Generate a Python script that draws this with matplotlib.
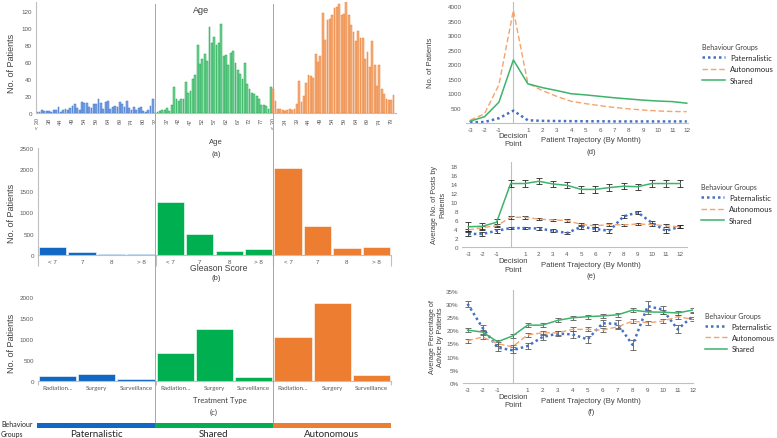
"""
Behaviour groups overview: age / gleason / treatment bars (left) and
monthly trajectories (right).
"""

import matplotlib
matplotlib.use('Agg')
import matplotlib.pyplot as plt
from matplotlib.lines import Line2D
from matplotlib.patches import Rectangle
import numpy as np

W, H = 777, 439

# ---- data ----
groups = ['Paternalistic', 'Shared', 'Autonomous']

age_pat = [1, 1, 3, 2, 2, 2, 1, 3, 4, 7, 1, 3, 5, 4, 6, 8, 10, 6, 3, 13,
           12, 12, 7, 6, 10, 10, 16, 12, 5, 13, 14, 5, 7, 8, 7, 13, 10, 7, 14, 6,
           3, 7, 4, 6, 7, 2, 1, 3, 8, 16]
age_shared = [0, 1, 2, 3, 4, 6, 2, 9, 30, 17, 14, 16, 17, 37, 24, 26, 40, 45, 80, 58,
              63, 69, 61, 101, 82, 89, 80, 82, 105, 67, 68, 57, 71, 73, 59, 51, 46, 40, 59, 34,
              28, 24, 22, 20, 16, 9, 9, 8, 5, 31]
age_auto = [28, 14, 5, 5, 3, 2, 3, 5, 4, 5, 11, 38, 13, 20, 35, 45, 44, 41, 69, 60,
            67, 118, 86, 109, 110, 115, 124, 125, 128, 115, 116, 132, 115, 104, 95, 85, 96, 88, 88, 64,
            72, 54, 85, 56, 32, 56, 28, 22, 16, 15, 15, 21]
age_labels_pat = ['< 30', '38', '44', '49', '54', '59', '64', '69', '74', '80']
age_labels_shared = ['32', '37', '42', '47', '52', '57', '62', '67', '72', '77']
age_labels_auto = ['< 30', '34', '39', '44', '49', '54', '59', '64', '69', '74', '79']

gleason_cats = ['< 7', '7', '8', '> 8']
gleason_pat = [195, 70, 30, 30]
gleason_shared = [1250, 500, 94, 134]
gleason_auto = [2025, 672, 155, 185]

treat_cats = ['Radiation...', 'Surgery', 'Surveillance']
treat_pat = [119, 174, 38]
treat_shared = [674, 1229, 103]
treat_auto = [1038, 1864, 150]

months = list(range(-3, 13))
month_labels = ['-3', '-2', '-1', '', '1', '2', '3', '4', '5', '6', '7', '8', '9', '10', '11', '12']

# (d) number of patients per month
pat_d = [10, 20, 150, 410, 80, 60, 55, 50, 45, 45, 40, 40, 40, 40, 40, 40]
auto_d = [80, 300, 1300, 3850, 1350, 1100, 900, 730, 650, 580, 520, 470, 430, 400, 380, 375]
shared_d = [50, 200, 700, 2150, 1330, 1200, 1100, 990, 950, 900, 850, 810, 770, 740, 720, 665]

# (e) average number of posts
pat_e = [2.9, 2.9, 3.6, 4.2, 4.2, 4.1, 3.6, 3.1, 4.5, 4.0, 3.6, 6.8, 7.7, 5.4, 3.6, 4.5]
auto_e = [3.8, 4.3, 4.7, 6.6, 6.6, 6.2, 6.0, 5.9, 5.0, 4.7, 5.0, 4.9, 5.1, 5.0, 4.7, 4.5]
shared_e = [4.5, 4.6, 5.5, 14.1, 14.1, 14.6, 14.0, 13.7, 12.8, 12.8, 13.2, 13.5, 13.4, 14.1, 14.1, 14.1]
pat_e_err = [0.4, 0.4, 0.4, 0.3, 0.3, 0.3, 0.3, 0.3, 0.4, 0.4, 0.4, 0.4, 0.4, 0.4, 0.4, 0.3]
auto_e_err = [0.3, 0.3, 0.3, 0.3, 0.3, 0.3, 0.3, 0.3, 0.3, 0.3, 0.3, 0.3, 0.3, 0.3, 0.3, 0.3]
shared_e_err = [1.0, 0.8, 0.8, 0.8, 0.7, 0.7, 0.7, 0.7, 0.7, 0.7, 0.7, 0.7, 0.7, 0.7, 0.7, 0.7]

# (f) average percentage of advice
pat_f = [30.0, 20.9, 13.4, 12.4, 14.0, 17.4, 18.7, 18.4, 16.5, 22.6, 22.4, 14.4, 29.1, 27.8, 20.3, 25.3]
auto_f = [16.0, 17.4, 14.9, 13.7, 18.2, 19.0, 19.0, 20.3, 20.3, 20.0, 21.3, 23.4, 22.8, 23.4, 25.1, 24.1]
shared_f = [20.0, 19.3, 15.6, 17.8, 21.9, 21.9, 23.7, 24.7, 25.1, 25.4, 25.8, 27.6, 26.9, 26.8, 26.5, 27.6]
pat_f_err = [1.2, 1.2, 1.2, 1.2, 1.2, 1.2, 1.0, 1.2, 1.2, 1.2, 1.5, 2.0, 2.0, 1.5, 1.5, 1.2]
auto_f_err = [0.8] * 16
shared_f_err = [0.8] * 16

# ---- styles ----
C_BAR = {'Paternalistic': '#1068c4', 'Shared': '#00b050', 'Autonomous': '#ed7d31'}
C_HIST_FACE = {'Paternalistic': '#7da6e3', 'Shared': '#72d392', 'Autonomous': '#f5b07e'}
C_HIST_EDGE = {'Paternalistic': '#3f72c9', 'Shared': '#1aa550', 'Autonomous': '#ec7d31'}
C_LINE = {'Paternalistic': '#4472c4', 'Autonomous': '#f4a46c', 'Shared': '#3cb46a'}
TXT = '#404040'
TICK = '#595959'
SPINE = '#bfbfbf'
SOFT = ['Lato', 'DejaVu Sans']      # calibri-like text (legends, group names)

plt.rcParams['font.family'] = ['Liberation Sans', 'DejaVu Sans']


def px_axes(fig, x0, y0, x1, y1):
    """Axes from a pixel box, origin at the top-left."""
    return fig.add_axes([x0 / W, 1 - y1 / H, (x1 - x0) / W, (y1 - y0) / H])


def fx(x):
    return x / W


def fy(y):
    return 1 - y / H


def clean_axes(ax, left=True):
    for s in ['top', 'right']:
        ax.spines[s].set_visible(False)
    ax.spines['left'].set_visible(left)
    ax.spines['left'].set_color(SPINE)
    ax.spines['bottom'].set_color(SPINE)
    ax.spines['left'].set_linewidth(0.8)
    ax.spines['bottom'].set_linewidth(0.8)
    ax.tick_params(axis='y', length=0, labelsize=4.5, labelcolor=TICK, pad=3)


fig = plt.figure(figsize=(W / 100, H / 100), dpi=100)

# ---------------- (a) age histogram ----------------
ax = px_axes(fig, 36.0, 2.6, 396.0, 114)
slot = 2.36
n1, n2, n3 = len(age_pat), len(age_shared), len(age_auto)
x1 = np.arange(n1)
x2 = np.arange(n2) + n1
x3 = np.arange(n3) + n1 + n2
for xs, vals, g in [(x1, age_pat, 'Paternalistic'), (x2, age_shared, 'Shared'),
                    (x3, age_auto, 'Autonomous')]:
    ax.bar(xs, vals, width=0.75, color=C_HIST_FACE[g], edgecolor=C_HIST_EDGE[g], linewidth=0.35)
ax.set_xlim(-0.5, (396.0 - 36.0) / slot - 0.5)
ax.set_ylim(0, 131)
ax.set_yticks([0, 20, 40, 60, 80, 100, 120])
clean_axes(ax)
tick_pos = list(x1[::5][:len(age_labels_pat)]) + list(x2[::5][:len(age_labels_shared)]) + \
    list(x3[::5][:len(age_labels_auto)])
ax.set_xticks(tick_pos)
ax.set_xticklabels(age_labels_pat + age_labels_shared + age_labels_auto, rotation=90,
                   fontsize=4, color=TICK)
ax.tick_params(axis='x', length=0, pad=3)
ax.text(69.5, 122, 'Age', fontsize=6.5, color=TXT, ha='center', va='center')

# ---------------- (b) gleason ----------------
ax = px_axes(fig, 38, 149, 391, 256)
vals = gleason_pat + gleason_shared + gleason_auto
cols = [C_BAR[g] for g in groups for _ in gleason_cats]
xs = np.arange(len(vals))
ax.bar(xs, vals, width=0.93, color=cols, edgecolor='white', linewidth=0.4)
ax.set_xlim(-0.5, len(vals) - 0.5)
ax.set_ylim(0, 2500)
ax.set_yticks(range(0, 2501, 500))
clean_axes(ax)
ax.set_xticks([-0.5, 3.5, 7.5, 11.5])
ax.set_xticklabels([])
ax.tick_params(axis='x', which='major', length=8, color=SPINE, width=0.8)
ax.set_xticks(xs, minor=True)
ax.set_xticklabels(gleason_cats * 3, minor=True, fontsize=4.5, color=TICK)
ax.tick_params(axis='x', which='minor', length=0, pad=3)

# ---------------- (c) treatment ----------------
ax = px_axes(fig, 38, 298, 391, 382)
vals = treat_pat + treat_shared + treat_auto
cols = [C_BAR[g] for g in groups for _ in treat_cats]
xs = np.arange(len(vals))
ax.bar(xs, vals, width=0.95, color=cols, edgecolor='white', linewidth=0.4)
ax.set_xlim(-0.5, len(vals) - 0.5)
ax.set_ylim(0, 2000)
ax.set_yticks(range(0, 2001, 500))
clean_axes(ax, left=False)
ax.set_xticks([-0.5, 2.5, 5.5, 8.5])
ax.set_xticklabels([])
ax.tick_params(axis='x', which='major', length=3, color=SPINE, width=0.8)
ax.set_xticks(xs, minor=True)
ax.set_xticklabels(treat_cats * 3, minor=True, fontsize=4.5, color=TICK, family=SOFT)
ax.tick_params(axis='x', which='minor', length=0, pad=3)

# left column texts
for yc in [63, 213, 343]:
    fig.text(fx(12), fy(yc), 'No. of Patients', rotation=90, fontsize=6.5, color=TXT,
             ha='center', va='center')
fig.text(fx(216), fy(143), 'Age', fontsize=5.5, color=TXT, ha='center', va='center')
fig.text(fx(216), fy(155), '(a)', fontsize=5.5, color=TXT, ha='center', va='center')
fig.text(fx(219), fy(268.5), 'Gleason Score', fontsize=6.2, color=TXT, ha='center', va='center')
fig.text(fx(216), fy(278), '(b)', fontsize=5.5, color=TXT, ha='center', va='center')
fig.text(fx(220), fy(401), 'Treatment Type', fontsize=5.5, color=TXT, ha='center', va='center',
         family=SOFT)
fig.text(fx(214), fy(412), '(c)', fontsize=5.5, color=TXT, ha='center', va='center', family=SOFT)

# group dividers running through the left column
for xd in [155, 273]:
    fig.add_artist(Line2D([fx(xd), fx(xd)], [fy(5), fy(423)], color='#a6a6a6', lw=0.7))

# behaviour group colour strip
edges = [37, 155, 273, 391]
for i, g in enumerate(groups):
    fig.add_artist(Rectangle((fx(edges[i]), fy(428.5)), fx(edges[i + 1] - edges[i]), 5 / H,
                             color=C_BAR[g], lw=0))
    fig.text(fx((edges[i] + edges[i + 1]) / 2), fy(435), g, fontsize=7, color='#262626',
             ha='center', va='center', family=SOFT)
fig.text(fx(1), fy(425), 'Behaviour', fontsize=5, color='#262626', ha='left', va='center',
         family=SOFT)
fig.text(fx(1), fy(435), 'Groups', fontsize=5, color='#262626', ha='left', va='center',
         family=SOFT)


# ---------------- right column ----------------
def traj_axes(box, xlim, ylim, yticks, yfmt):
    ax = px_axes(fig, *box)
    ax.set_xlim(*xlim)
    ax.set_ylim(*ylim)
    ax.set_yticks(yticks)
    ax.set_yticklabels([yfmt(v) for v in yticks])
    clean_axes(ax, left=False)
    ax.set_xticks(months)
    ax.set_xticklabels(month_labels, fontsize=4.5, color=TICK)
    ax.tick_params(axis='x', length=0, pad=3)
    ax.axvline(0, color='#bfbfbf', lw=0.8, zorder=0)
    return ax


def traj_labels(xc, y_tick, tag):
    fig.text(fx(513), fy(y_tick + 6), 'Decision', fontsize=5.5, color=TXT, ha='center', va='center')
    fig.text(fx(513), fy(y_tick + 14), 'Point', fontsize=5.5, color=TXT, ha='center', va='center')
    fig.text(fx(xc), fy(y_tick + 10), 'Patient Trajectory (By Month)', fontsize=5.5, color=TXT,
             ha='center', va='center')
    fig.text(fx(xc), fy(y_tick + 21), tag, fontsize=5.5, color=TXT, ha='center', va='center')


def traj_legend(ax, x, y, fs=5.6):
    handles = [Line2D([], [], color=C_LINE['Paternalistic'], lw=1.8, ls=(0, (1, 1.2))),
               Line2D([], [], color=C_LINE['Autonomous'], lw=1.0, ls=(0, (4, 2))),
               Line2D([], [], color=C_LINE['Shared'], lw=1.1)]
    leg = ax.legend(handles, ['Paternalistic', 'Autonomous', 'Shared'], title='Behaviour Groups',
                    loc='upper left', bbox_to_anchor=(fx(x), fy(y)), bbox_transform=fig.transFigure,
                    frameon=False, prop={'family': SOFT, 'size': fs},
                    title_fontproperties={'family': SOFT, 'size': 5.0},
                    handlelength=3.0, labelspacing=0.55, handletextpad=0.6, borderpad=0)
    leg._legend_box.align = 'left'
    leg.get_title().set_color(TXT)
    for t in leg.get_texts():
        t.set_color('#262626')


# (d)
ax = traj_axes((465.7, 3.2, 687.5, 123.6), (-3.3, 12.05), (0, 4130), list(range(0, 4001, 500)),
               lambda v: '' if v == 0 else str(v))
ax.plot(months, pat_d, color=C_LINE['Paternalistic'], lw=1.8, ls=(0, (1, 1.2)))
ax.plot(months, auto_d, color=C_LINE['Autonomous'], lw=1.0, ls=(0, (4, 2)))
ax.plot(months, shared_d, color=C_LINE['Shared'], lw=1.1)
traj_legend(ax, 698, 40)
traj_labels(591, 131, '(d)')
fig.text(fx(430), fy(63), 'No. of Patients', rotation=90, fontsize=5.5, color=TXT,
         ha='center', va='center')

# (e)
ax = traj_axes((462, 162.7, 687, 248), (-3.45, 12.5), (0, 18.95), list(range(0, 19, 2)), str)
eb = dict(capsize=2, elinewidth=0.6, capthick=0.6, ecolor='#262626')
ax.errorbar(months, pat_e, yerr=pat_e_err, color=C_LINE['Paternalistic'], lw=1.8,
            ls=(0, (1, 1.2)), **eb)
ax.errorbar(months, auto_e, yerr=auto_e_err, color=C_LINE['Autonomous'], lw=1.0,
            ls=(0, (4, 2)), **eb)
ax.errorbar(months, shared_e, yerr=shared_e_err, color=C_LINE['Shared'], lw=1.1, **eb)
traj_legend(ax, 697, 180)
traj_labels(591, 256, '(e)')
fig.text(fx(435), fy(205), 'Average No. of Posts by', rotation=90, fontsize=5.2, color=TXT,
         ha='center', va='center')
fig.text(fx(443), fy(205), 'Patients', rotation=90, fontsize=5.2, color=TXT,
         ha='center', va='center')

# (f)
ax = traj_axes((463, 291, 693, 384), (-3.3, 12.02), (0, 35.2), list(range(0, 36, 5)),
               lambda v: f'{v}%')
eb = dict(capsize=2, elinewidth=0.6, capthick=0.6, ecolor='#595959')
ax.errorbar(months, pat_f, yerr=pat_f_err, color=C_LINE['Paternalistic'], lw=1.8,
            ls=(0, (1, 1.2)), **eb)
ax.errorbar(months, auto_f, yerr=auto_f_err, color=C_LINE['Autonomous'], lw=1.0,
            ls=(0, (4, 2)), **eb)
ax.errorbar(months, shared_f, yerr=shared_f_err, color=C_LINE['Shared'], lw=1.1, **eb)
traj_legend(ax, 701, 309, fs=5.4)
traj_labels(591, 392, '(f)')
fig.text(fx(433), fy(337), 'Average Percentage of', rotation=90, fontsize=5.2, color=TXT,
         ha='center', va='center')
fig.text(fx(441), fy(337), 'Advice by Patients', rotation=90, fontsize=5.2, color=TXT,
         ha='center', va='center')

plt.savefig('out.png', dpi=100)
plt.close()
